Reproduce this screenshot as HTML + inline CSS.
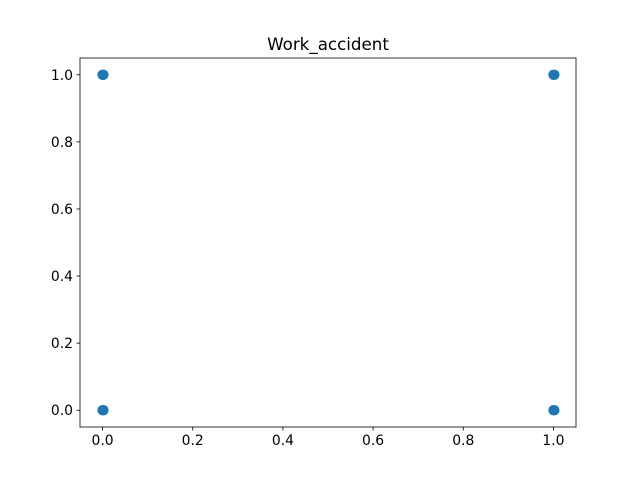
<!DOCTYPE html>
<html><head><meta charset="utf-8"><style>body{margin:0;background:#fff}svg{display:block;font-family:"DejaVu Sans","Liberation Sans",sans-serif}</style></head>
<body>
<svg id="chart" width="640" height="480">
<rect x="0" y="0" width="640" height="480" fill="#fff"/>
<text x="328" y="50" text-anchor="middle" font-size="16.7" fill="#000">Work_accident</text>
<g id="marks"></g>
<rect x="80" y="58" width="496" height="369" fill="none" stroke="#000" stroke-width="0.8"/>
<g id="xticks"></g><g id="yticks"></g>
</svg>
<script>
const xValues = [0, 0, 1, 1, 0.002, 1.002, 0.002, 1.002];
const yValues = [0, 1, 0, 1, 1, 0, 0, 1];
const xTickLabels = ["0.0","0.2","0.4","0.6","0.8","1.0"];
const yTickLabels = ["0.0","0.2","0.4","0.6","0.8","1.0"];
const NS="http://www.w3.org/2000/svg";
const X0=80,X1=576,Y0=427,Y1=58,dmin=-0.05,dmax=1.05;
function sx(v){return X0+(v-dmin)/(dmax-dmin)*(X1-X0);}
function sy(v){return Y0-(v-dmin)/(dmax-dmin)*(Y0-Y1);}
function mk(t,a){const e=document.createElementNS(NS,t);for(const k in a)e.setAttribute(k,a[k]);return e;}
const marks=document.getElementById('marks');
xValues.forEach((x,i)=>{
  const c=mk('circle',{cx:sx(x),cy:sy(yValues[i]),r:5.2,fill:'#1f77b4'});
  
  
  marks.appendChild(c);
});
const xt=document.getElementById('xticks');
xTickLabels.forEach(l=>{
  const x=sx(parseFloat(l));
  const ln=mk('line',{x1:x,x2:x,y1:427,y2:430.5,stroke:'#000','stroke-width':0.8});
  
  
  xt.appendChild(ln);
  const t=mk('text',{x:x,y:445,'text-anchor':'middle','font-size':13.9});
  t.textContent=l;
  
  
  xt.appendChild(t);
});
const yt=document.getElementById('yticks');
yTickLabels.forEach(l=>{
  const y=sy(parseFloat(l));
  const ln=mk('line',{x1:76.5,x2:80,y1:y,y2:y,stroke:'#000','stroke-width':0.8});
  
  
  yt.appendChild(ln);
  const t=mk('text',{x:73,y:y+5,'text-anchor':'end','font-size':13.9});
  t.textContent=l;
  
  
  yt.appendChild(t);
});
</script>
</body></html>
